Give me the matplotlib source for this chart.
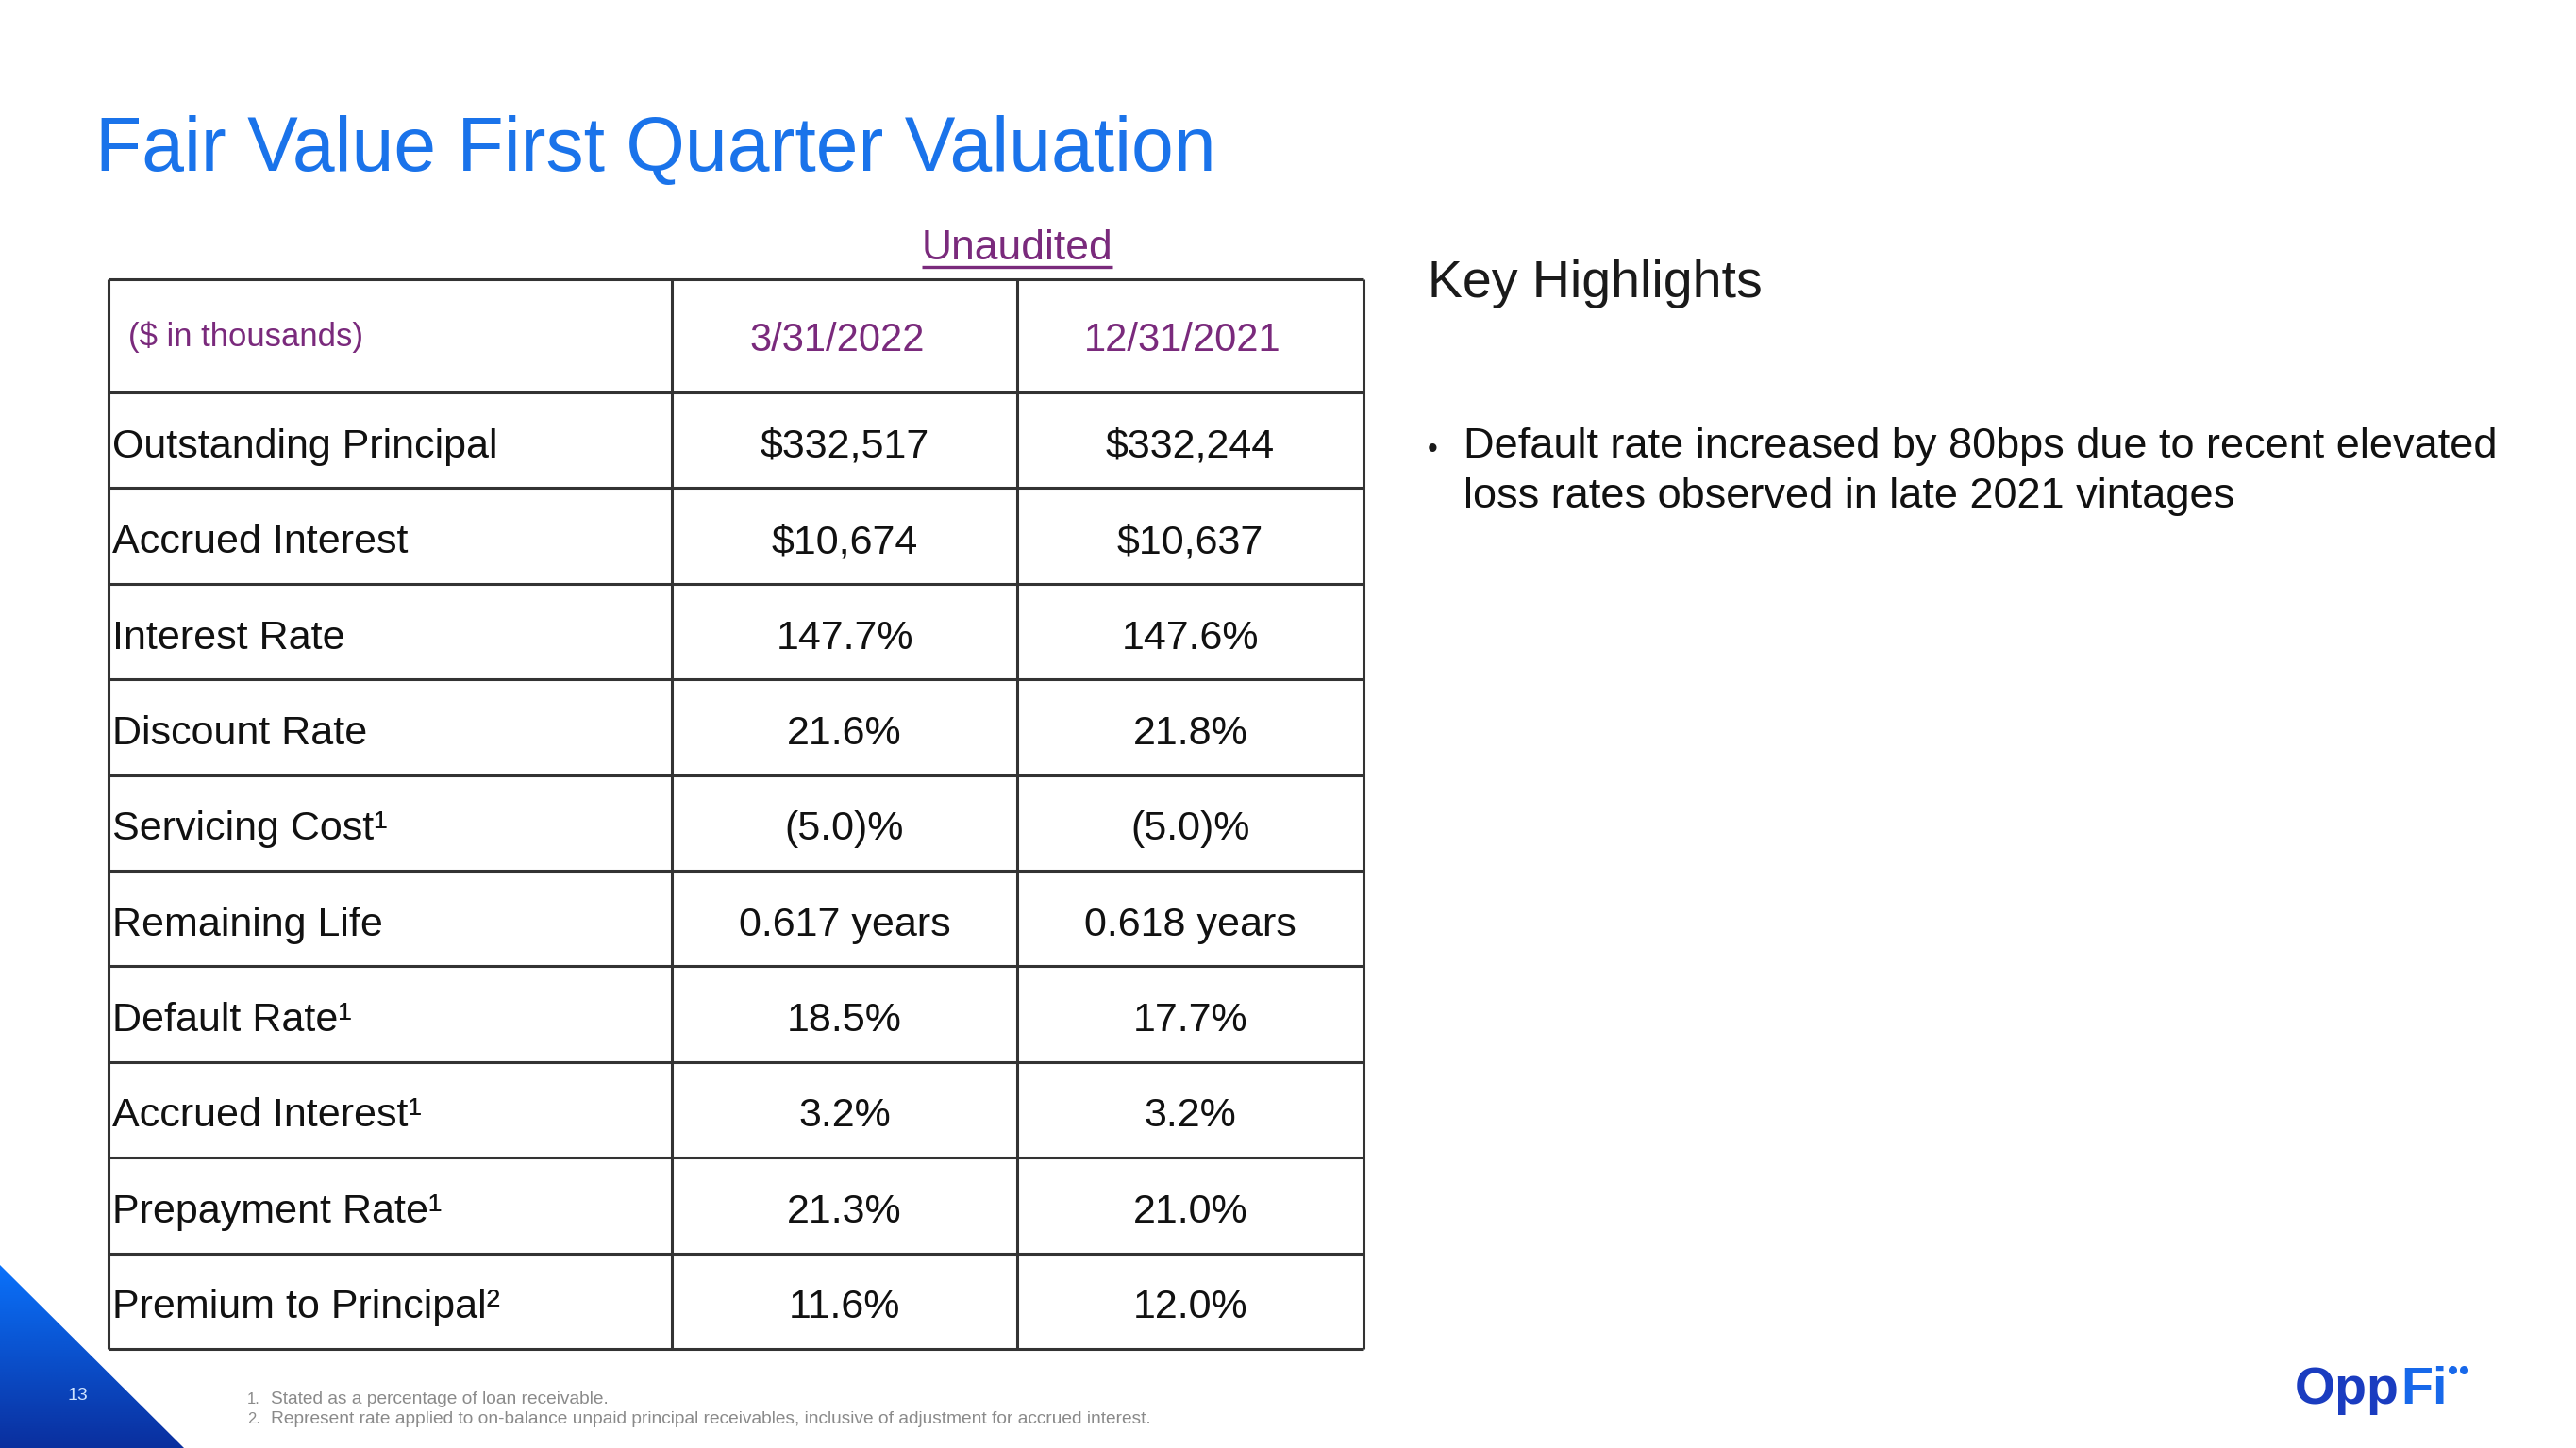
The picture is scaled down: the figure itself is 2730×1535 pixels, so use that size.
import numpy as np
import matplotlib
matplotlib.use('Agg')
import matplotlib.pyplot as plt
from matplotlib.patches import Polygon
from matplotlib.colors import LinearSegmentedColormap

plt.rcParams['font.family'] = ['Liberation Sans', 'DejaVu Sans']

# table content
col_headers = ['($ in thousands)', '3/31/2022', '12/31/2021']
row_labels = ['Outstanding Principal', 'Accrued Interest', 'Interest Rate',
              'Discount Rate', 'Servicing Cost¹', 'Remaining Life',
              'Default Rate¹', 'Accrued Interest¹', 'Prepayment Rate¹',
              'Premium to Principal²']
q1_2022 = ['$332,517', '$10,674', '147.7%', '21.6%', '(5.0)%', '0.617 years',
           '18.5%', '3.2%', '21.3%', '11.6%']
q4_2021 = ['$332,244', '$10,637', '147.6%', '21.8%', '(5.0)%', '0.618 years',
           '17.7%', '3.2%', '21.0%', '12.0%']
highlight_lines = ['Default rate increased by 80bps due to recent elevated',
                   'loss rates observed in late 2021 vintages']
footnotes = ['Stated as a percentage of loan receivable.',
             'Represent rate applied to on-balance unpaid principal receivables, '
             'inclusive of adjustment for accrued interest.']

W, H = 2730, 1535
fig = plt.figure(figsize=(W / 100, H / 100), dpi=100)
ax = fig.add_axes([0, 0, 1, 1])
ax.set_xlim(0, W)
ax.set_ylim(H, 0)
ax.axis('off')

blue = '#1a73ea'
purple = '#7a2a7c'
line_c = '#333333'
ink = '#111111'

# title
ax.text(101, 181, 'Fair Value First Quarter Valuation', fontsize=58,
        color=blue, va='baseline', ha='left')

# table geometry
col_x = [115, 712, 1078, 1445]
top, head_bot, row_h = 296, 416, 101.4
n = len(row_labels)
row_y = head_bot + np.arange(n + 1) * row_h

ax.hlines([top] + list(row_y), col_x[0], col_x[-1], color=line_c, lw=2.2)
ax.vlines(col_x, top, row_y[-1], color=line_c, lw=2.2)

# header
hc = (top + head_bot) / 2
ax.text(col_x[0] + 21, hc + 11, col_headers[0], fontsize=25, color=purple,
        va='baseline', ha='left')
for j in (1, 2):
    ax.text((col_x[j] + col_x[j + 1]) / 2 - 8, hc + 16, col_headers[j],
            fontsize=30, color=purple, va='baseline', ha='center')

# Unaudited label
ua = ax.text(1078, 275, 'Unaudited', fontsize=32, color=purple,
             va='baseline', ha='center')
fig.canvas.draw()
ext = ua.get_window_extent(fig.canvas.get_renderer())
ax.plot([ext.x0, ext.x1], [283, 283], color=purple, lw=2.4,
        solid_capstyle='butt')

# rows
centers = (row_y[:-1] + row_y[1:]) / 2
for i in range(n):
    yb = centers[i] + 18
    ax.text(col_x[0] + 4, yb, row_labels[i], fontsize=31, color=ink,
            va='baseline', ha='left')
    ax.text((col_x[1] + col_x[2]) / 2, yb, q1_2022[i], fontsize=31,
            color=ink, va='baseline', ha='center')
    ax.text((col_x[2] + col_x[3]) / 2, yb, q4_2021[i], fontsize=31,
            color=ink, va='baseline', ha='center')

# key highlights
ax.text(1513, 315, 'Key Highlights', fontsize=40, color='#1a1a1a',
        va='baseline', ha='left')
ax.text(1513, 485, '•', fontsize=22, color='#1a1a1a', va='baseline', ha='left')
for k, line in enumerate(highlight_lines):
    ax.text(1551, 485 + k * 53, line, fontsize=32.5, color=ink,
            va='baseline', ha='left')

# footnotes
for k, fn in enumerate(footnotes):
    yb = 1488 + k * 21
    ax.text(262, yb, f'{k + 1}.', fontsize=12, color='#8a8a8a', va='baseline')
    ax.text(287, yb, fn, fontsize=13.8, color='#8a8a8a', va='baseline')

# blue corner triangle with gradient
tri = Polygon([[0, 1341], [195, H], [0, H]], closed=True, transform=ax.transData,
              facecolor='none', edgecolor='none')
ax.add_patch(tri)
grad = np.linspace(0, 1, 256).reshape(-1, 1)
cmap = LinearSegmentedColormap.from_list('corner', ['#0a72fb', '#0a2f9e'])
im = ax.imshow(grad, cmap=cmap, extent=[0, 195, H, 1341], aspect='auto',
               origin='upper', zorder=0)
im.set_clip_path(tri)
ax.set_xlim(0, W)
ax.set_ylim(H, 0)
ax.text(82, 1484, '13', fontsize=14, color='#cfe3ff', ha='center', va='baseline')

# logo
t1 = ax.text(2432, 1488, 'Opp', fontsize=40, fontweight='bold',
             color='#1a3cc0', va='baseline', ha='left')
fig.canvas.draw()
e1 = t1.get_window_extent(fig.canvas.get_renderer())
t2 = ax.text(e1.x1 + 1, 1488, 'Fi', fontsize=40, fontweight='bold',
             color='#1768ea', va='baseline', ha='left')
fig.canvas.draw()
e2 = t2.get_window_extent(fig.canvas.get_renderer())
ax.plot([e2.x1 + 6, e2.x1 + 18], [1452, 1452], 'o', color='#1768ea',
        markersize=6.5, markeredgewidth=0)

fig.savefig('out.png', dpi=100, facecolor='white')
